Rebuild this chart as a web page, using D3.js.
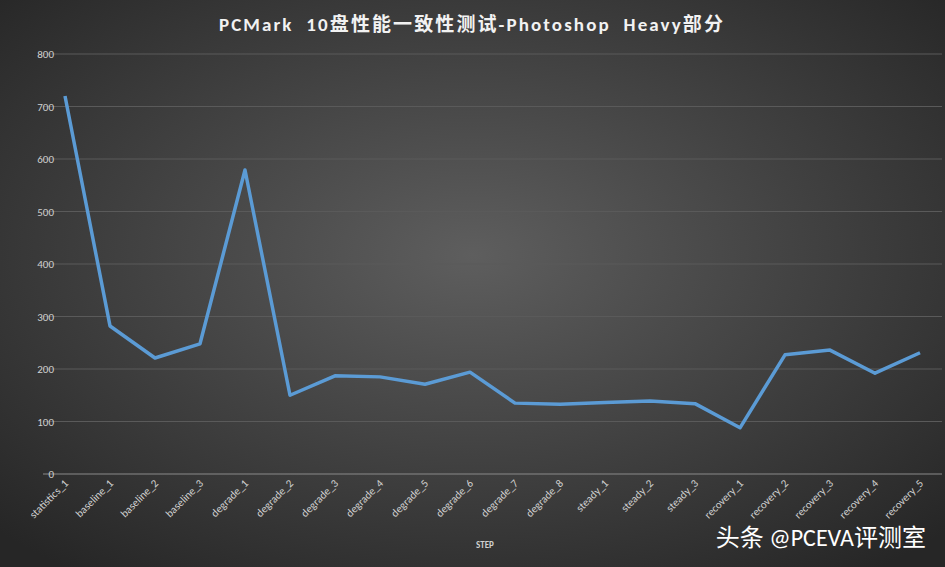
<!DOCTYPE html>
<html><head><meta charset="utf-8">
<script src="https://cdn.jsdelivr.net/npm/d3@7"></script>
<style>body{margin:0;background:#333}svg{display:block;font-family:Calibri,"Liberation Sans","Noto Sans CJK SC",sans-serif}</style>
</head><body><svg id="c" width="945" height="567"></svg>
<script>
// chart data
var steps = ["statistics_1","baseline_1","baseline_2","baseline_3","degrade_1","degrade_2","degrade_3","degrade_4","degrade_5","degrade_6","degrade_7","degrade_8","steady_1","steady_2","steady_3","recovery_1","recovery_2","recovery_3","recovery_4","recovery_5"];
var values = [720,282,221,248,579,150,187,185,171,194,135,133,136,139,134,88,227,236,192,231];
var yTicks = [0,100,200,300,400,500,600,700,800];

var svg = d3.select("#c");
var defs = svg.append("defs");
var g0 = defs.append("radialGradient").attr("id","bg").attr("cx","50%").attr("cy","45%").attr("r","70%");
g0.append("stop").attr("offset","0%").attr("stop-color","#5e5e5e");
g0.append("stop").attr("offset","100%").attr("stop-color","#262626");
svg.append("rect").attr("width",945).attr("height",567).attr("fill","url(#bg)");

var x = d3.scalePoint().domain(steps).range([42.5,942.5]).padding(0.5);
var y = d3.scaleLinear().domain([0,800]).range([474,54]);

// grid
svg.selectAll(".grid").data(yTicks).enter().append("line")
  .attr("x1",43).attr("x2",942).attr("y1",function(d){return y(d);}).attr("y2",function(d){return y(d);})
  .attr("stroke",function(d){return d==0?"#8a8a8a":"#5a5a5a";}).attr("stroke-width",1);
svg.selectAll(".yl").data(yTicks).enter().append("text")
  .attr("x",54).attr("y",function(d){return y(d)+4;}).attr("text-anchor","end")
  .attr("fill","#d0d0d0").attr("font-size",11).text(function(d){return d;});

// x labels
svg.selectAll(".xl").data(steps).enter().append("text")
  .attr("transform",function(d){return "translate("+(x(d)+4)+",484) rotate(-45)";})
  .attr("text-anchor","end").attr("fill","#d0d0d0").attr("font-size",11).text(function(d){return d;});

svg.append("path").datum(values)
  .attr("d",d3.line().x(function(d,i){return x(steps[i]);}).y(function(d){return y(d);}))
  .attr("fill","none").attr("stroke","#5b9bd5").attr("stroke-width",3.5).attr("stroke-linejoin","round");

svg.append("text").attr("x",472).attr("y",31).attr("text-anchor","middle").attr("fill","#f2f2f2")
  .attr("xml:space","preserve").attr("font-size",19).attr("font-weight","bold").attr("letter-spacing",2.1)
  .text("PCMark  10盘性能一致性测试-Photoshop  Heavy部分");
svg.append("text").attr("x",485).attr("y",548).attr("text-anchor","middle").attr("fill","#d0d0d0")
  .attr("font-size",9).attr("font-weight","bold").text("STEP");
svg.append("text").attr("x",926).attr("y",546).attr("text-anchor","end").attr("fill","#ffffff")
  .attr("font-size",24).text("头条 @PCEVA评测室");
</script></body></html>
